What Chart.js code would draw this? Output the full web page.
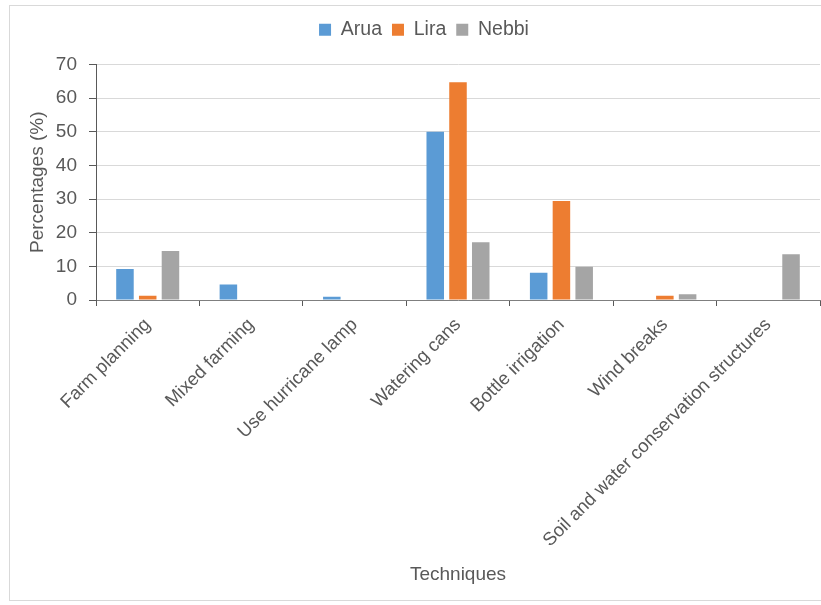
<!DOCTYPE html>
<html>
<head>
<meta charset="utf-8">
<script src="https://cdn.jsdelivr.net/npm/chart.js@4/dist/chart.umd.min.js"></script>
<style>
  html, body { margin: 0; padding: 0; background: #fff; overflow: hidden; }
  #frame {
    position: absolute; left: 9px; top: 5px; width: 830px; height: 594px;
    border: 1px solid #d9d9d9; border-right: none;
  }
  #wrap { position: absolute; left: 0; top: 0; width: 821px; height: 605px; }
</style>
</head>
<body>
<div id="frame"></div>
<div id="wrap"><canvas id="techChart"></canvas></div>
<script>
// Techniques used, by district (%)
const techniques = [
    'Farm planning',
    'Mixed farming',
    'Use hurricane lamp',
    'Watering cans',
    'Bottle irrigation',
    'Wind breaks',
    'Soil and water conservation structures'
];
const arua = [9.2, 4.6, 1.0, 50.0, 8.1, 0, 0];
const lira = [1.3, 0, 0, 64.7, 29.4, 1.3, 0];
const nebbi = [14.6, 0, 0, 17.2, 9.9, 1.7, 13.6];
const yTicks = [0, 10, 20, 30, 40, 50, 60, 70];

const fontFamily = '"Liberation Sans", Arial, sans-serif';
const textColor = '#595959';

// extra space under the legend, and nudge it right over the plot
const legendGap = {
    id: 'legendGap',
    beforeInit(chart) {
        const legend = chart.legend;
        const fit = legend.fit;
        legend.fit = function() {
            fit.call(this);
            this.height += 15;
        };
        const draw = legend.draw;
        legend.draw = function() {
            const c = this.ctx;
            c.save();
            c.translate(14, 0);
            draw.call(this);
            c.restore();
        };
    }
};

document.addEventListener("DOMContentLoaded", function() {
    const ctx = document.getElementById('techChart').getContext('2d');
    const chart = new Chart(ctx, {
        type: 'bar',
        data: {
            labels: techniques,
            datasets: [
                { label: 'Arua', data: arua, backgroundColor: '#5b9bd5' },
                { label: 'Lira', data: lira, backgroundColor: '#ed7d31' },
                { label: 'Nebbi', data: nebbi, backgroundColor: '#a5a5a5' }
            ]
        },
        options: {
            responsive: true,
            maintainAspectRatio: false,
            animation: false,
            categoryPercentage: 0.66,
            barPercentage: 0.77,
            layout: { padding: { left: 0, right: 1, top: 10, bottom: 5 } },
            plugins: {
                legend: {
                    position: 'top',
                    labels: {
                        boxWidth: 12,
                        boxHeight: 12,
                        padding: 10,
                        color: textColor,
                        font: { family: fontFamily, size: 19.5 }
                    }
                },
                tooltip: { enabled: false }
            },
            scales: {
                x: {
                    grid: {
                        drawOnChartArea: false,
                        tickLength: 6,
                        tickColor: '#595959'
                    },
                    border: { color: '#7f7f7f', width: 1 },
                    ticks: {
                        minRotation: 45,
                        maxRotation: 45,
                        autoSkip: false,
                        color: textColor,
                        padding: 8,
                        font: { family: fontFamily, size: 18.5 }
                    },
                    title: {
                        display: true,
                        text: 'Techniques',
                        color: textColor,
                        font: { family: fontFamily, size: 19 },
                        padding: { top: 2, bottom: 14 }
                    },
                    afterFit: function(scale) { scale.height = 300; }
                },
                y: {
                    min: 0,
                    max: 70,
                    afterBuildTicks: function(scale) {
                        scale.ticks = yTicks.map(v => ({ value: v }));
                    },
                    grid: {
                        color: '#d9d9d9',
                        tickColor: '#595959',
                        tickLength: 7
                    },
                    border: { color: '#595959', width: 1 },
                    ticks: {
                        color: textColor,
                        padding: 12,
                        font: { family: fontFamily, size: 19 }
                    },
                    title: {
                        display: true,
                        text: 'Percentages (%)',
                        color: textColor,
                        font: { family: fontFamily, size: 19 },
                        padding: { top: 26, bottom: 0 }
                    },
                    afterFit: function(scale) { scale.width = 96; }
                }
            }
        },
        plugins: [legendGap]
    });
});
</script>
</body>
</html>
